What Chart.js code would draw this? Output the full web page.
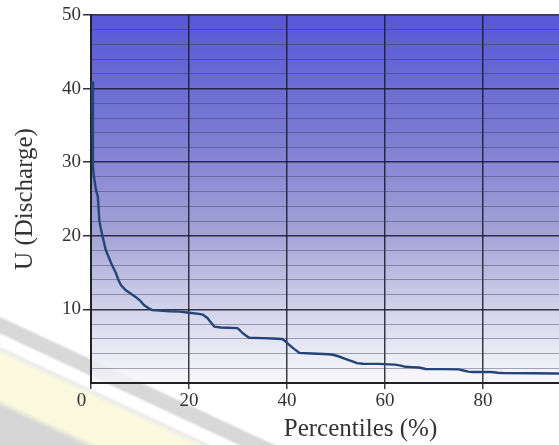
<!DOCTYPE html>
<html>
<head>
<meta charset="utf-8">
<script src="https://cdn.jsdelivr.net/npm/chart.js@4.4.1/dist/chart.umd.min.js"></script>
<style>
  html, body { margin: 0; padding: 0; background: #fff; }
  #frame {
    position: relative;
    width: 559px;
    height: 445px;
    overflow: hidden;
    /* faint diagonal paper band behind the lower-left corner */
    background: linear-gradient(205deg,
      #ffffff 0px, #ffffff 522px,
      #d8d8d8 525px, #d8d8d8 537px,
      #ffffff 540px, #ffffff 549px,
      #ececec 552px, #fbf9dd 558px,
      #fbf9dd 598px, #d6d6d6 605px, #d6d6d6 640px);
  }
  #plot { position: absolute; left: 0; top: 0; width: 631px; height: 445px; }
</style>
</head>
<body>
<div id="frame"><div id="plot"><canvas id="fdc"></canvas></div></div>
<script>
// Flow duration curve: exceedance percentile vs discharge
const percentiles = [0.25, 0.4, 0.5, 0.7, 1.0, 1.4, 1.7, 2.0, 2.4, 3.0, 3.5, 4.1, 4.6, 5.1, 5.6,
  6.1, 7.1, 8.0, 9.1, 10.0, 10.8, 11.7, 12.5, 14.0, 16.0, 18.1, 20.0, 22.0, 22.8, 23.8, 24.5,
  25.2, 26.5, 27.8, 29.9, 30.5, 30.9, 31.6, 32.3, 35.0, 37.0, 39.0, 39.8, 40.4, 41.5, 42.5,
  45.0, 48.6, 49.6, 50.6, 51.6, 52.6, 53.5, 54.3, 55.5, 58.7, 62.0, 63.0, 64.2, 65.5, 66.9,
  67.6, 68.3, 72.0, 75.0, 76.0, 77.0, 78.0, 81.7, 83.0, 84.0, 90.0, 95.0, 100];
const discharge = [41.0, 29.5, 28.5, 27.6, 26.3, 25.3, 22.1, 21.0, 19.8, 18.1, 17.3, 16.3, 15.6, 14.9, 14.0,
  13.3, 12.6, 12.2, 11.7, 11.2, 10.6, 10.2, 9.9, 9.85, 9.75, 9.7, 9.55, 9.4, 9.3, 8.8, 8.2,
  7.65, 7.55, 7.5, 7.45, 7.1, 6.8, 6.45, 6.15, 6.1, 6.05, 5.98, 5.6, 5.2, 4.6, 4.1,
  4.0, 3.9, 3.8, 3.6, 3.35, 3.1, 2.9, 2.7, 2.62, 2.6, 2.5, 2.4, 2.2, 2.15, 2.1,
  2.0, 1.9, 1.88, 1.85, 1.7, 1.55, 1.5, 1.5, 1.4, 1.35, 1.33, 1.3, 1.2];
const yLabelled = [10, 20, 30, 40, 50];
const xLabelled = [0, 20, 40, 60, 80, 100];

const xTitle = 'Percentiles (%)';
const yTitle = 'U (Discharge)';

Chart.defaults.font.family = "'Liberation Serif', 'Times New Roman', serif";
Chart.defaults.color = '#333';

// blue-to-white shading behind the plot area
const plotShade = {
  id: 'plotShade',
  beforeDraw(chart) {
    const { ctx, chartArea: a } = chart;
    const g = ctx.createLinearGradient(0, a.top, 0, a.bottom);
    g.addColorStop(0, '#5757d8');
    g.addColorStop(0.3, '#7878d2');
    g.addColorStop(0.6, '#a4a4d7');
    g.addColorStop(0.85, 'rgba(218,218,238,0.92)');
    g.addColorStop(1, 'rgba(246,246,250,0.8)');
    ctx.save();
    ctx.fillStyle = g;
    ctx.fillRect(a.left, a.top, a.right - a.left, a.bottom - a.top);
    ctx.restore();
  }
};

const isMajorY = v => v % 10 === 0;

new Chart(document.getElementById('fdc'), {
  type: 'line',
  data: {
    datasets: [{
      data: percentiles.map((p, i) => ({ x: p, y: discharge[i] })),
      borderColor: '#244578',
      borderWidth: 2.4,
      pointRadius: 0,
      tension: 0,
      fill: false
    }]
  },
  options: {
    responsive: true,
    maintainAspectRatio: false,
    animation: false,
    layout: { padding: { top: 15, right: 0, bottom: 0, left: 0 } },
    plugins: { legend: { display: false }, tooltip: { enabled: false } },
    scales: {
      x: {
        type: 'linear',
        min: 0,
        max: 110,
        afterFit(s) { s.height = 62; },
        ticks: {
          stepSize: 20,
          padding: 1,
          font: { size: 19 },
          color: '#333',
          callback: v => xLabelled.includes(v) ? (v === 0 ? '0    ' : String(v)) : ''
        },
        grid: {
          color: 'rgba(25,25,45,0.85)',
          lineWidth: 1.5,
          tickLength: 6,
          tickColor: 'rgba(25,25,45,0.85)'
        },
        border: { color: '#222', width: 2 },
        title: {
          display: true,
          text: xTitle,
          font: { size: 25 },
          color: '#333',
          padding: { top: 0, bottom: 1 }
        }
      },
      y: {
        min: 0,
        max: 50,
        afterFit(s) { s.width = 91; },
        ticks: {
          stepSize: 2,
          autoSkip: false,
          padding: 2,
          font: { size: 19 },
          color: '#333',
          callback: v => yLabelled.includes(v) ? String(v) : ''
        },
        grid: {
          color: c => isMajorY(c.tick.value) ? 'rgba(25,25,45,0.85)' : 'rgba(55,55,85,0.42)',
          lineWidth: c => isMajorY(c.tick.value) ? 1.5 : 1,
          tickLength: 8,
          tickColor: c => (isMajorY(c.tick.value) && c.tick.value !== 0) ? 'rgba(25,25,45,0.9)' : 'rgba(0,0,0,0)'
        },
        border: { color: '#222', width: 2 },
        title: {
          display: true,
          text: yTitle,
          font: { size: 25 },
          color: '#333',
          padding: { top: 10, bottom: 0 }
        }
      }
    }
  },
  plugins: [plotShade]
});
</script>
</body>
</html>
